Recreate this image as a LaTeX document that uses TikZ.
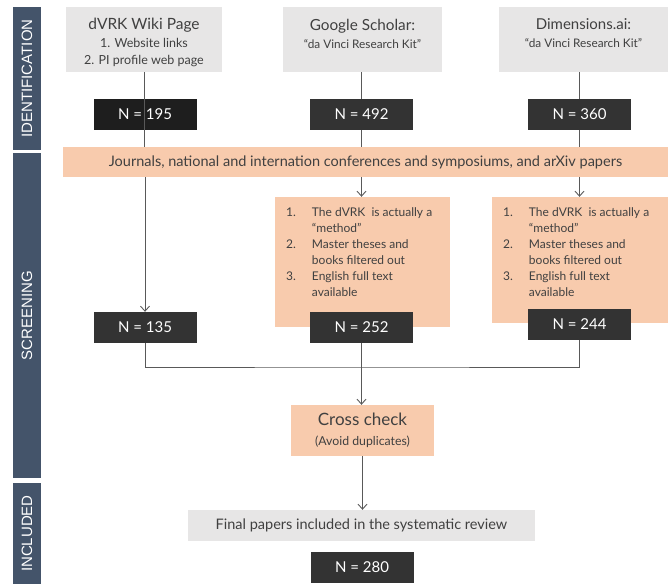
\documentclass[tikz,border=0pt]{standalone}
\usepackage{fontspec}
\setmainfont{Lato}
\newfontfamily\sidefont{Liberation Sans}
\usetikzlibrary{arrows.meta}
\definecolor{peach}{HTML}{F8CBAD}
\definecolor{lgray}{HTML}{E7E6E6}
\definecolor{slate}{HTML}{44546A}
\definecolor{darkbox}{HTML}{333333}
\definecolor{blackbox}{HTML}{1E1E1E}
\definecolor{txt}{HTML}{404040}
\definecolor{ln}{HTML}{595959}
\begin{document}
\begin{tikzpicture}[x=1pt,y=-1pt,
  sidebar/.style={fill=slate, draw=none, inner sep=0, minimum width=28},
  sidelabel/.style={text=white, font=\sidefont\fontsize{15}{18}\selectfont, rotate=90},
  src/.style={fill=lgray, inner sep=0, text=txt, align=center},
  srctext/.style={inner sep=0, text=txt, align=center},
  nbox/.style={fill=darkbox, text=white, inner sep=0, minimum width=103, minimum height=31, font=\fontsize{15}{18}\selectfont},
  pbox/.style={fill=peach, inner sep=0},
  listtext/.style={inner sep=0, anchor=north west, text=txt, font=\fontsize{12}{16}\selectfont},
  conn/.style={draw=ln, line width=0.9pt},
  arr/.style={conn, -{Straight Barb[length=5pt,width=9pt]}}
]
\useasboundingbox (0,0) rectangle (670,584);

% side bars
\node[sidebar, minimum height=143] (barI) at (27,78.5) {};
\node[sidelabel] (labI) at (barI) {IDENTIFICATION};
\node[sidebar, minimum height=325] (barS) at (27,315.5) {};
\node[sidelabel] (labS) at (barS) {SCREENING};
\node[sidebar, minimum height=101] (barC) at (27,533.5) {};
\node[sidelabel] (labC) at (barC) {INCLUDED};

% sources
\node[src, minimum width=156, minimum height=65] (wiki) at (144,39.5) {};
\node[srctext, font=\fontsize{12.5}{16.5}\selectfont] (wikit) at ([yshift=-3pt]wiki.center)
  {{\fontsize{15.5}{17}\selectfont dVRK Wiki Page}\\[1.5pt]
   1. Website links\\
   2. PI profile web page};
\node[src, minimum width=159, minimum height=65] (gs) at (362.5,39.5) {};
\node[srctext, font=\fontsize{11.8}{18}\selectfont] (gst) at ([yshift=6pt]gs.center)
  {{\fontsize{15.3}{17}\selectfont Google Scholar:}\\
   ``da Vinci Research Kit''};
\node[src, minimum width=169, minimum height=65] (dim) at (583.5,39.5) {};
\node[srctext, font=\fontsize{11.8}{18}\selectfont] (dimt) at ([yshift=6pt]dim.center)
  {{\fontsize{15}{17}\selectfont Dimensions.ai:}\\
   ``da Vinci Research Kit''};

% counts
\node[nbox, fill=blackbox] (n195) at (145,114.5) {N = 195};
\node[nbox] (n492) at (361.5,114.5) {N = 492};
\node[nbox] (n360) at (579.5,114.5) {N = 360};

% journals bar
\node[pbox, minimum width=605, minimum height=30, text=txt, font=\fontsize{14.5}{17}\selectfont] (jour) at (365.5,162)
  {Journals, national and internation conferences and symposiums, and arXiv papers};

% filter boxes
\node[pbox, minimum width=175, minimum height=130] (f1) at (362.5,262) {};
\node[pbox, minimum width=176, minimum height=126] (f2) at (580,260) {};
\newcommand{\filterlist}{%
  \begin{tabular}{@{}l@{\hspace{16pt}}l@{}}
  1. & The dVRK\ \ is actually a\\
     & ``method''\\
  2. & Master theses and\\
     & books filtered out\\
  3. & English full text\\
     & available
  \end{tabular}}
\node[listtext] (f1t) at (286,205) {\filterlist};
\node[listtext] (f2t) at (503,205) {\filterlist};

\node[nbox] (n135) at (145,327.5) {N = 135};
\node[nbox] (n252) at (361.5,327.5) {N = 252};
\node[nbox] (n244) at (579.5,324.5) {N = 244};

% cross check
\node[pbox, minimum width=143, minimum height=51, text=txt, align=center, font=\fontsize{12.3}{20}\selectfont] (cc) at (362.5,430.5)
  {{\fontsize{17}{19}\selectfont Cross check}\\
   (Avoid duplicates)};

% final
\node[src, minimum width=347, minimum height=31, font=\fontsize{14.5}{17}\selectfont] (fin) at (361.5,525.5)
  {Final papers included in the systematic review};
\node[nbox] (n280) at (362,567) {N = 280};

% connectors
\draw[conn] (wiki.south) -- (wiki.south |- jour.north);
\draw[conn] (gs.south -| n492) -- (n492.north);
\draw[conn] (n492.south) -- (n492.south |- jour.north);
\draw[conn] (dim.south -| n360) -- (n360.north);
\draw[conn] (n360.south) -- (n360.south |- jour.north);
\draw[arr] (jour.south -| n135) -- (n135.north);
\draw[arr] (jour.south -| n252) -- (f1.north -| n252);
\draw[arr] (jour.south -| n244) -- (f2.north -| n244);
\coordinate (m) at (361.5,367);
\draw[conn] (n135.south) |- (m) -| (n244.south);
\draw[arr] (n252.south) -- (cc.north -| n252);
\draw[arr] (cc.south) -- (fin.north -| cc.south);
\end{tikzpicture}
\end{document}
